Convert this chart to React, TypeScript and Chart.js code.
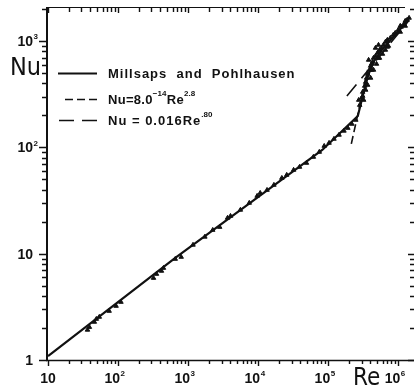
import React, { useEffect, useRef } from 'react';
import { Chart, registerables } from 'chart.js';

Chart.register(...registerables);

// ---- axis ranges ----
const RE_MIN = 10;
const RE_MAX = 1.68e6;
const NU_MIN = 1;
const NU_MAX = 2090;
const X_LABEL_EXPS = [1, 2, 3, 4, 5, 6];
const Y_LABEL_EXPS = [0, 1, 2, 3];

// ---- experimental points (Re, Nu) ----
const expRe = [
  36.6, 39, 45.9, 49, 54, 74.6, 93.7, 110, 321, 354, 417, 445, 656,
  797, 1176, 1735, 2250, 2823, 3660, 4033, 5580, 7470, 9680, 1.07e4, 1.34e4, 1.68e4,
  2.18e4, 2.56e4, 3.21e4, 3.9e4, 4.9e4, 6.15e4, 7.47e4,
  8.78e4, 1.03e5, 1.21e5, 1.43e5, 1.68e5, 1.91e5, 2.18e5, 2.48e5,
  2.82e5, 3.01e5, 3.11e5, 3.32e5, 3.43e5, 3.54e5, 3.66e5, 3.9e5, 4.03e5, 3.78e5, 4.3e5,
  4.44e5, 4.74e5, 5.06e5, 5.4e5, 5.76e5, 6.15e5, 6.56e5, 7.0e5, 7.72e5, 8.5e5, 9.07e5,
  1.0e6, 1.1e6, 1.21e6, 1.34e6, 1.43e6,
  3.43e5, 3.66e5, 4.03e5, 4.44e5, 4.9e5, 5.4e5, 5.96e5, 6.56e5, 7.24e5, 4.74e5, 5.23e5,
  2.73e5, 3.11e5, 3.21e5, 4.17e5, 4.17e5, 5.22e5, 5.22e5, 7.0e5, 7.0e5,
  1.07e6, 1.07e6, 1.26e6, 1.26e6,
];
const expNu = [
  1.92, 2.04, 2.28, 2.43, 2.54, 2.89, 3.22, 3.51, 5.9, 6.44, 6.88, 7.33, 8.91,
  9.31, 12.1, 14.4, 16.7, 17.8, 21.7, 22.6, 25.8, 30.0, 34.9, 37.2, 39.7, 44.3,
  51.5, 55.0, 61.3, 65.4, 71.3, 81.2, 90.5,
  103, 110, 120, 131, 143, 152, 166, 181,
  250, 292, 332, 378, 412, 450, 490, 535, 583, 664, 636,
  693, 724, 773, 825, 861, 919, 981, 1024, 1069, 1141, 1191,
  1271, 1358, 1449, 1579, 1649,
  347, 386, 450, 535, 609, 693, 756, 825, 899, 861, 919,
  279, 304, 279, 609, 535, 789, 693, 1002, 881,
  1387, 1218, 1545, 1387,
];

// ---- Millsaps and Pohlhausen curve ----
const mpRe = [10, 656, 8.23e4, 2.65e5, 2.92e5, 3.32e5, 3.78e5, 4.44e5, 6.15e5, 9.07e5, 1.38e6];
const mpNu = [1.09, 9.11, 94.5, 197, 256, 362, 490, 636, 861, 1141, 1579];

// ---- Nu = 8.0^-14 Re^2.8 (short dashes) ----
const steepRe = [2.14e5, 3.66e5];
const steepNu = [108, 535];

// ---- Nu = 0.016 Re^.80 (long dashes) ----
const turbRe = [1.85e5, 1.43e6];
const turbNu = [304, 1566];

const INK = '#111111';

type Part = { t: string; sup?: boolean; ls?: string };
const legendLabels: Part[][] = [
  [{ t: 'Millsaps  and  Pohlhausen', ls: '1px' }],
  [{ t: 'Nu=8.0', ls: '0.3px' }, { t: '−14', sup: true }, { t: 'Re', ls: '0.3px' }, { t: '2.8', sup: true }],
  [{ t: 'Nu = 0.016Re', ls: '1px' }, { t: '.80', sup: true }],
];

const pts = (xs: number[], ys: number[]) => xs.map((x, i) => ({ x, y: ys[i] }));

function logTicks(min: number, max: number) {
  const out: { v: number; major: boolean; e: number }[] = [];
  for (let e = Math.floor(Math.log10(min)); e <= Math.ceil(Math.log10(max)); e++) {
    for (let m = 1; m <= 9; m++) {
      const v = m * Math.pow(10, e);
      if (v >= min * 0.999 && v <= max * 1.001) out.push({ v, major: m === 1, e });
    }
  }
  return out;
}

const MAIN_FONT = '"Liberation Sans", Arial, Helvetica, sans-serif';
const NARROW_FONT = '"Liberation Sans Narrow", "DejaVu Sans Condensed", "Liberation Sans", sans-serif';

const decorPlugin = {
  id: 'decor',
  afterDraw(chart: any) {
    const ctx: CanvasRenderingContext2D = chart.ctx;
    const xs = chart.scales.x;
    const ys = chart.scales.y;
    const { left, right, top, bottom } = chart.chartArea;
    ctx.save();
    ctx.strokeStyle = INK;
    ctx.fillStyle = INK;
    ctx.setLineDash([]);

    // frame
    ctx.lineWidth = 2;
    ctx.beginPath();
    ctx.moveTo(left - 1, top);
    ctx.lineTo(left - 1, bottom + 1);
    ctx.stroke();
    ctx.lineWidth = 1.5;
    ctx.beginPath();
    ctx.moveTo(left - 2, bottom + 0.5);
    ctx.lineTo(right, bottom + 0.5);
    ctx.stroke();
    ctx.lineWidth = 1.2;
    ctx.beginPath();
    ctx.moveTo(left - 2, top + 0.5);
    ctx.lineTo(right - 9, top + 0.5);
    ctx.stroke();

    // x ticks (bottom outward, top inward)
    ctx.lineWidth = 1.4;
    for (const t of logTicks(RE_MIN, RE_MAX)) {
      const px = Math.round(xs.getPixelForValue(t.v)) + 0.5;
      const lb = t.major ? 6 : 4;
      ctx.beginPath();
      ctx.moveTo(px, bottom);
      ctx.lineTo(px, bottom + lb);
      ctx.moveTo(px, top);
      ctx.lineTo(px, top + (t.major ? 6 : 5));
      ctx.stroke();
    }
    // y ticks (left outward, right inward)
    for (const t of logTicks(NU_MIN, NU_MAX)) {
      const py = Math.round(ys.getPixelForValue(t.v)) + 0.5;
      ctx.beginPath();
      ctx.moveTo(left - 1, py);
      ctx.lineTo(left - (t.major ? 9 : 6), py);
      ctx.moveTo(right, py);
      ctx.lineTo(right - (t.major ? 6 : 4), py);
      ctx.stroke();
    }

    // tick labels
    const big = `bold 14px ${MAIN_FONT}`;
    const small = `bold 8px ${MAIN_FONT}`;
    for (const e of X_LABEL_EXPS) {
      const px = xs.getPixelForValue(Math.pow(10, e));
      ctx.font = big;
      ctx.textBaseline = 'alphabetic';
      if (e === 1) {
        ctx.textAlign = 'center';
        ctx.fillText('10', px, 383);
      } else {
        ctx.textAlign = 'right';
        ctx.fillText('10', px + 2, 383);
        ctx.font = small;
        ctx.textAlign = 'left';
        ctx.fillText(String(e), px + 2.5, 376);
      }
    }
    for (const e of Y_LABEL_EXPS) {
      const py = ys.getPixelForValue(Math.pow(10, e));
      ctx.font = big;
      ctx.textBaseline = 'middle';
      ctx.textAlign = 'right';
      const xr = 33;
      if (e === 0) {
        ctx.fillText('1', xr, py + 1);
      } else {
        ctx.fillText('10', xr, py + 1);
        if (e >= 2) {
          ctx.font = small;
          ctx.textAlign = 'left';
          ctx.fillText(String(e), xr + 0.5, py - 4);
        }
      }
    }

    // axis titles
    ctx.textAlign = 'left';
    ctx.textBaseline = 'alphabetic';
    ctx.font = `25px ${NARROW_FONT}`;
    ctx.fillText('Nu', 10, 75);
    ctx.font = `24px ${NARROW_FONT}`;
    ctx.fillText('Re', 353, 385);

    // legend
    const rows = [73, 99, 120];
    const sampleStart = [58, 65, 59];
    const sampleEnd = 97;
    const dsIdx = [1, 2, 3];
    rows.forEach((ry, i) => {
      const ds = chart.data.datasets[dsIdx[i]];
      ctx.lineWidth = ds.borderWidth;
      ctx.setLineDash(ds.borderDash || []);
      ctx.beginPath();
      ctx.moveTo(sampleStart[i], ry + 0.5);
      ctx.lineTo(sampleEnd, ry + 0.5);
      ctx.stroke();
      ctx.setLineDash([]);
      let tx = 108;
      ctx.textAlign = 'left';
      ctx.textBaseline = 'middle';
      for (const p of legendLabels[i]) {
        (ctx as any).letterSpacing = p.sup ? '0px' : p.ls || '0px';
        ctx.font = p.sup ? `bold 8px ${MAIN_FONT}` : `bold 13px ${MAIN_FONT}`;
        const yy = p.sup ? ry - 5 : ry + 1;
        ctx.fillText(p.t, tx, yy);
        tx += ctx.measureText(p.t).width + (p.sup ? 0.5 : 0);
      }
      (ctx as any).letterSpacing = '0px';
    });
    ctx.restore();
  },
};

export default function App() {
  const ref = useRef<HTMLCanvasElement>(null);
  useEffect(() => {
    const canvas = ref.current;
    if (!canvas) return;
    const chart = new Chart(canvas, {
      type: 'scatter',
      data: {
        datasets: [
          {
            label: 'Experimental data',
            data: pts(expRe, expNu),
            showLine: false,
            pointStyle: 'triangle',
            pointRadius: 2.6,
            backgroundColor: INK,
            borderColor: INK,
            borderWidth: 1,
          },
          {
            label: 'Millsaps and Pohlhausen',
            data: pts(mpRe, mpNu),
            showLine: true,
            pointRadius: 0,
            borderColor: INK,
            borderWidth: 2.2,
            tension: 0,
          },
          {
            label: 'Nu = 8.0⁻¹⁴Re²·⁸',
            data: pts(steepRe, steepNu),
            showLine: true,
            pointRadius: 0,
            borderColor: INK,
            borderWidth: 1.6,
            borderDash: [8, 4],
          },
          {
            label: 'Nu = 0.016Re·⁸⁰',
            data: pts(turbRe, turbNu),
            showLine: true,
            pointRadius: 0,
            borderColor: INK,
            borderWidth: 1.6,
            borderDash: [15, 8],
          },
        ],
      },
      options: {
        animation: false,
        responsive: false,
        devicePixelRatio: 1,
        layout: { padding: { top: 7, right: 0, bottom: 0, left: 0 } },
        plugins: { legend: { display: false }, tooltip: { enabled: false } },
        scales: {
          x: {
            type: 'logarithmic',
            min: RE_MIN,
            max: RE_MAX,
            ticks: { display: false },
            grid: { display: false },
            border: { display: false },
            afterFit: (s: any) => {
              s.height = 27;
            },
          },
          y: {
            type: 'logarithmic',
            min: NU_MIN,
            max: NU_MAX,
            ticks: { display: false },
            grid: { display: false },
            border: { display: false },
            afterFit: (s: any) => {
              s.width = 48;
            },
          },
        },
      } as any,
      plugins: [decorPlugin],
    });
    return () => chart.destroy();
  }, []);
  return (
    <div style={{ position: 'absolute', left: 0, top: 0, width: 419, height: 387, background: '#fff' }}>
      <canvas ref={ref} width={419} height={387} style={{ display: 'block', width: 419, height: 387 }} />
    </div>
  );
}
